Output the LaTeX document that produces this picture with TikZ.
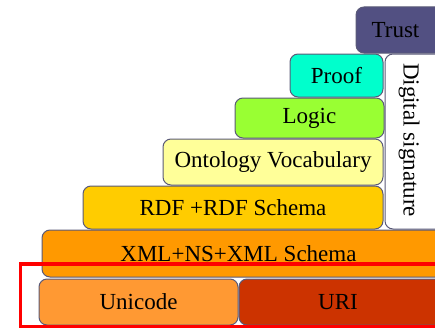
\documentclass[tikz,border=0pt]{standalone}
\usepackage{fontspec}
\setmainfont{Liberation Serif}
\definecolor{trustc}{HTML}{525082}
\definecolor{proofc}{HTML}{00FFCC}
\definecolor{logicc}{HTML}{99FF33}
\definecolor{ontoc}{HTML}{FFFF99}
\definecolor{rdfc}{HTML}{FFCC00}
\definecolor{xmlc}{HTML}{FF9900}
\definecolor{unic}{HTML}{FF9933}
\definecolor{uric}{HTML}{CC3300}
\definecolor{edgec}{HTML}{5A5A78}
\begin{document}
\begin{tikzpicture}[x=1pt,y=-1pt,
  layer/.style={draw=edgec,line width=1pt,rounded corners=8pt},
  lbl/.style={font=\fontsize{23}{26}\selectfont,inner sep=0pt}]
\useasboundingbox (0,0) rectangle (435,329);
\clip (0,0) rectangle (435,329);
% stack of layers
\draw[layer,fill=trustc] (356,7) rectangle (445,53);
\node[lbl] (trust) at (395.5,30) {Trust};
\draw[layer,fill=white] (385,54) rectangle (445,229);
\node[lbl,rotate=-90] (dsig) at (409,140) {Digital signature};
\draw[layer,fill=proofc] (290,54) rectangle (383,97);
\node[lbl] (proof) at (336.5,76) {Proof};
\draw[layer,fill=logicc] (235,98) rectangle (384,138);
\node[lbl] (logic) at (309.5,118) {Logic};
\draw[layer,fill=ontoc] (163,139) rectangle (383,185);
\node[lbl] (onto) at (273,162) {Ontology Vocabulary};
\draw[layer,fill=rdfc] (83,186) rectangle (383,229);
\node[lbl] (rdf) at (233,208) {RDF +RDF Schema};
\draw[layer,fill=xmlc] (42,230) rectangle (445,277);
\node[lbl] (xml) at (238.5,254) {XML+NS+XML Schema};
\draw[layer,fill=unic] (39,279) rectangle (238,325);
\node[lbl] (uni) at (138.5,302) {Unicode};
\draw[layer,fill=uric] (239,279) rectangle (445,325);
\node[lbl] (uri) at (338,302) {URI};
% highlight frame around the base layer
\draw[red,line width=3.5pt] (20.5,264) rectangle (440,326.5);
\end{tikzpicture}
\end{document}
